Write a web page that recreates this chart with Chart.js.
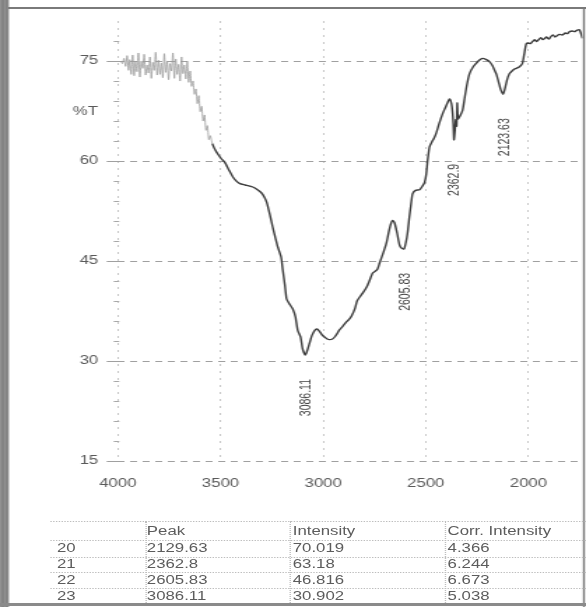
<!DOCTYPE html>
<html>
<head>
<meta charset="utf-8">
<script src="https://cdn.jsdelivr.net/npm/chart.js@4/dist/chart.umd.min.js"></script>
<style>
  html, body { margin: 0; padding: 0; background: #fff; overflow: hidden; }
  #sheet { position: absolute; left: 0; top: 0; width: 419px; height: 607px;
           transform: scaleX(1.3986); transform-origin: 0 0; }
  #spectrum { position: absolute; left: 0; top: 0; }
  .cell { position: absolute; font: 12px "Liberation Sans", Arial, sans-serif; color: #5c5c5c;
          line-height: 14px; white-space: nowrap; }
  .hline { position: absolute; height: 0; border-top: 1px dotted #bdbdbd; }
  .vline { position: absolute; width: 0; border-left: 1px dotted #bdbdbd; }
</style>
</head>
<body>
<div id="sheet">
  <canvas id="spectrum" width="419" height="607"></canvas>
  <div id="peaktable"></div>
</div>
<script>
// IR transmission spectrum, wavenumber (cm-1) against %T
const wavenumber = [
  3985, 3978, 3970, 3962, 3955, 3948, 3942, 3935, 3928, 3921, 3914, 3907, 3900, 3893, 3886, 3879,
  3872, 3865, 3858, 3851, 3844, 3837, 3830, 3823, 3816, 3809, 3802, 3795, 3788, 3781, 3774, 3767,
  3760, 3753, 3746, 3739, 3732, 3725, 3718, 3711, 3704, 3697, 3690, 3683, 3676, 3669, 3662, 3655,
  3648, 3641, 3634, 3627, 3620, 3613, 3606, 3599, 3592, 3585, 3578, 3571, 3564, 3557, 3550, 3540,
  3525, 3510, 3495, 3479, 3460, 3440, 3420, 3406, 3380, 3343, 3320, 3300, 3285, 3275, 3260, 3246,
  3233, 3221, 3205, 3197, 3187, 3178, 3165, 3148, 3135, 3124, 3110, 3100, 3086.11, 3075, 3066, 3055,
  3041, 3030, 3017, 3005, 2993, 2980, 2968, 2955, 2944, 2932, 2920, 2905, 2886, 2875, 2861, 2845,
  2835, 2822, 2805, 2788, 2775, 2759, 2745, 2735, 2725, 2710, 2700, 2691, 2680, 2670, 2662, 2652,
  2640, 2628, 2617, 2605.83, 2597, 2589, 2580, 2570, 2564, 2550, 2530, 2515, 2506, 2498, 2491, 2482,
  2470, 2460, 2448, 2435, 2418, 2405, 2392, 2384, 2375, 2370, 2366, 2362.9, 2358, 2354, 2350, 2347,
  2343, 2336, 2321, 2310, 2300, 2287, 2270, 2253, 2240, 2224, 2205, 2190, 2175, 2165, 2156, 2145,
  2135, 2123.63, 2115, 2105, 2093, 2080, 2068, 2059, 2045, 2030, 2022, 2015, 2010, 2000, 1990, 1981,
  1970, 1960, 1950, 1940, 1930, 1920, 1913, 1900, 1890, 1880, 1870, 1860, 1849, 1835, 1820, 1810,
  1800, 1786, 1775, 1765, 1752, 1745, 1737
];
const transmittance = [
  75.0, 74.6, 75.4, 74.2, 75.8, 73.6, 75.2, 73.0, 75.9, 72.8, 74.9, 73.4, 76.2, 72.6, 75.0, 73.9,
  76.0, 72.9, 74.4, 73.2, 75.6, 72.4, 74.8, 73.6, 76.3, 72.9, 75.1, 73.0, 74.7, 72.5, 76.1, 73.3,
  75.0, 72.2, 74.6, 73.5, 76.2, 72.4, 75.3, 73.0, 74.5, 72.0, 75.6, 73.1, 74.4, 72.3, 75.0, 71.8,
  73.5, 71.2, 72.0, 70.0, 70.8, 68.6, 69.8, 67.4, 68.2, 66.0, 66.9, 64.6, 65.3, 63.2, 63.8, 62.6,
  61.6, 60.9, 60.3, 59.8, 58.7, 57.6, 56.9, 56.6, 56.4, 56.1, 55.7, 55.2, 54.5, 53.8, 52.0, 50.1,
  48.5, 47.1, 45.6, 43.7, 41.5, 39.3, 38.6, 37.8, 36.6, 34.6, 33.6, 31.8, 30.902, 31.8, 32.7, 33.8,
  34.6, 34.8, 34.4, 33.9, 33.6, 33.3, 33.2, 33.3, 33.6, 34.1, 34.7, 35.2, 35.9, 36.2, 36.8, 37.9,
  39.0, 39.6, 40.3, 41.1, 42.0, 43.2, 43.5, 43.8, 44.7, 46.0, 46.9, 47.8, 49.4, 50.6, 51.1, 50.7,
  49.2, 47.4, 46.9, 46.816, 47.8, 49.2, 51.6, 54.0, 55.1, 55.6, 55.7, 56.3, 56.8, 58.0, 60.1, 62.1,
  62.9, 63.4, 64.3, 65.6, 67.1, 68.0, 68.9, 69.3, 68.6, 67.4, 65.5, 63.18, 64.6, 66.2, 65.2, 68.7,
  66.3, 66.6, 67.6, 69.6, 71.4, 73.1, 74.1, 74.7, 75.1, 75.4, 75.2, 74.9, 74.3, 73.6, 73.0, 71.8,
  70.7, 70.019, 70.8, 72.1, 73.1, 73.5, 73.8, 73.9, 74.1, 74.6, 75.8, 77.0, 77.6, 77.7, 77.6, 77.9,
  78.2, 77.9, 78.2, 78.5, 78.2, 78.4, 78.6, 78.3, 78.7, 78.9, 78.6, 78.8, 79.0, 78.9, 79.2, 79.1,
  79.4, 79.5, 79.4, 79.6, 79.7, 79.2, 78.4
];

// axis ticks
const xTicks = [2000, 2500, 3000, 3500, 4000];
const yTicks = [15, 30, 45, 60, 75];

// picked peaks
const peakWavenumber = [3086.11, 2605.83, 2362.9, 2123.63];
const peakTransmittance = [30.902, 46.816, 63.18, 70.019];
const peakText = ['3086.11', '2605.83', '2362.9', '2123.63'];

// peak table
const tableHeader = ['', 'Peak', 'Intensity', 'Corr. Intensity'];
const tableIndex = ['20', '21', '22', '23'];
const tablePeak = ['2129.63', '2362.8', '2605.83', '3086.11'];
const tableIntensity = ['70.019', '63.18', '46.816', '30.902'];
const tableCorr = ['4.366', '6.244', '6.673', '5.038'];

const FONT = '"Liberation Sans", Arial, sans-serif';
Chart.defaults.font.family = FONT;
Chart.defaults.font.size = 12;
Chart.defaults.color = '#5a5a5a';

// page frame, minor ticks, %T caption and rotated peak labels
const decorations = {
  id: 'decorations',
  beforeDraw(chart) {
    const ctx = chart.ctx;
    ctx.save();
    ctx.fillStyle = '#ffffff';
    ctx.fillRect(0, 0, chart.width, chart.height);
    ctx.restore();
  },
  afterDatasetsDraw(chart) {
    const ctx = chart.ctx;
    const xs = chart.scales.x, ys = chart.scales.y;
    const left = chart.chartArea.left;
    ctx.save();
    // minor y ticks every 3 %T
    ctx.strokeStyle = '#a8a8a8';
    ctx.lineWidth = 1;
    for (let v = 18; v < 81; v += 3) {
      if (v % 15 === 0) continue;
      const y = Math.round(ys.getPixelForValue(v)) + 0.5;
      ctx.beginPath();
      ctx.moveTo(left - 3, y);
      ctx.lineTo(left + 1, y);
      ctx.stroke();
    }
    // %T caption
    ctx.fillStyle = '#5a5a5a';
    ctx.font = '12px ' + FONT;
    ctx.textAlign = 'right';
    ctx.textBaseline = 'middle';
    ctx.fillText('%T', 70, ys.getPixelForValue(67.4));
    // peak labels, reading bottom to top below each minimum
    ctx.fillStyle = '#444';
    ctx.font = '10.5px ' + FONT;
    peakWavenumber.forEach((w, i) => {
      const x = xs.getPixelForValue(w) + 1;
      const y = ys.getPixelForValue(peakTransmittance[i]) + 24;
      ctx.save();
      ctx.translate(x, y);
      ctx.rotate(-Math.PI / 2);
      ctx.textAlign = 'right';
      ctx.textBaseline = 'middle';
      ctx.fillText(peakText[i], 0, 0);
      ctx.restore();
    });
    ctx.restore();
  },
  afterDraw(chart) {
    const ctx = chart.ctx;
    ctx.save();
    ctx.fillStyle = '#919191';
    ctx.fillRect(0, 0, 6.4, chart.height);
    ctx.fillStyle = '#777';
    ctx.fillRect(1.5, 0, 1, chart.height);
    ctx.fillRect(4.5, 0, 0.8, chart.height);
    ctx.fillStyle = '#7a7a7a';
    ctx.fillRect(6, 7, chart.width - 6, 2);
    ctx.fillRect(416.8, 7, 1.4, chart.height - 7);
    ctx.fillStyle = '#8a8a8a';
    ctx.fillRect(0, 603, chart.width, 3);
    ctx.restore();
  }
};

// the noisy high-wavenumber end prints fainter than the rest of the trace
const faintAbove = 3545;

new Chart(document.getElementById('spectrum'), {
  type: 'line',
  data: {
    datasets: [{
      data: wavenumber.map((w, i) => ({ x: w, y: transmittance[i] })),
      borderColor: '#3c3c3c',
      borderWidth: 1.4,
      pointRadius: 0,
      tension: 0.2,
      fill: false,
      segment: {
        borderColor: c => (c.p0.parsed.x > faintAbove ? '#9c9c9c' : '#3c3c3c'),
        borderWidth: c => (c.p0.parsed.x > faintAbove ? 0.8 : 1.4)
      }
    }]
  },
  options: {
    responsive: false,
    animation: false,
    devicePixelRatio: 1,
    layout: { padding: { left: 0, top: 21, right: 2.57, bottom: 0 } },
    plugins: { legend: { display: false }, tooltip: { enabled: false } },
    scales: {
      x: {
        type: 'linear',
        reverse: true,
        min: 1737,
        max: 4000,
        afterBuildTicks: s => { s.ticks = xTicks.map(v => ({ value: v })); },
        afterFit: s => { s.height = 146; },
        ticks: { padding: 15, color: '#5a5a5a', font: { size: 12 }, maxRotation: 0,
                 callback: v => String(v) },
        grid: { color: '#c8c8c8', drawTicks: false, lineWidth: 1 },
        border: { display: false, dash: [2, 5] }
      },
      y: {
        min: 15,
        max: 81,
        afterBuildTicks: s => { s.ticks = yTicks.map(v => ({ value: v })); },
        afterFit: s => { s.width = 84.29; },
        ticks: { padding: 6, color: '#5a5a5a', font: { size: 12 }, callback: v => String(v) },
        grid: { color: '#a0a0a0', drawTicks: true, tickLength: 8, lineWidth: 1 },
        border: { display: false, dash: [5, 4] }
      }
    }
  },
  plugins: [decorations]
});

// peak table beneath the plot
(function buildTable() {
  const host = document.getElementById('peaktable');
  const colLeft = [40.7, 105, 209.3, 320];
  const rowCenter = [531, 548, 564, 580, 596];
  const rules = [521, 540, 557, 572, 588];
  const seps = [103.6, 207, 318];
  rules.forEach(y => {
    const d = document.createElement('div');
    d.className = 'hline';
    d.style.left = '35.7px'; d.style.top = y + 'px'; d.style.width = (419 - 35.7) + 'px';
    host.appendChild(d);
  });
  seps.forEach(x => {
    const d = document.createElement('div');
    d.className = 'vline';
    d.style.left = x + 'px'; d.style.top = '521px'; d.style.height = '82px';
    host.appendChild(d);
  });
  const rows = [tableHeader].concat(tableIndex.map((r, i) =>
    [r, tablePeak[i], tableIntensity[i], tableCorr[i]]));
  rows.forEach((row, r) => {
    row.forEach((txt, c) => {
      if (!txt) return;
      const s = document.createElement('div');
      s.className = 'cell';
      s.textContent = txt;
      s.style.left = colLeft[c] + 'px';
      s.style.top = (rowCenter[r] - 7) + 'px';
      host.appendChild(s);
    });
  });
})();
</script>
</body>
</html>
